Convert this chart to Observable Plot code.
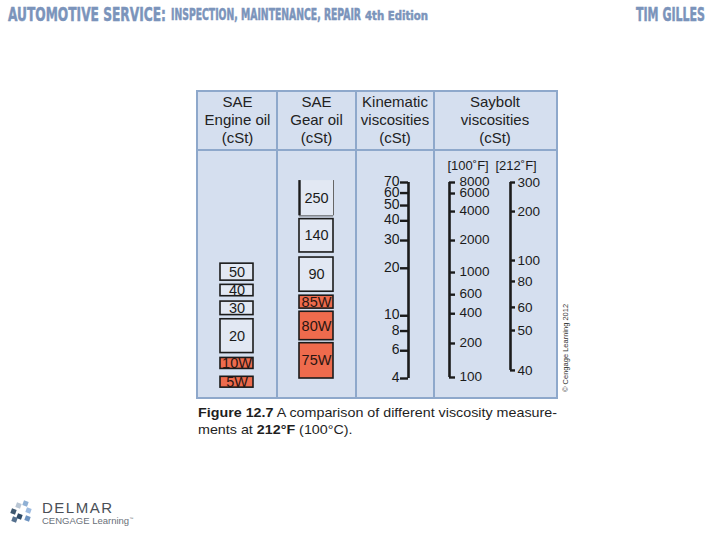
<!DOCTYPE html>
<html>
<head>
<meta charset="utf-8">
<script src="https://cdn.jsdelivr.net/npm/d3@7"></script>
<script src="https://cdn.jsdelivr.net/npm/@observablehq/plot@0.6"></script>
<style>
html,body{margin:0;padding:0;background:#fff;}
body{width:720px;height:540px;position:relative;overflow:hidden;font-family:"Liberation Sans",Arial,sans-serif;}
.abs{position:absolute;white-space:nowrap;}
.ttl{color:#7b94bb;font-family:"Liberation Sans Narrow","DejaVu Sans Condensed","Liberation Sans",sans-serif;font-weight:bold;line-height:1;transform-origin:0 0;-webkit-text-stroke:0.5px #7b94bb;}
#table{left:196px;top:90px;width:362px;height:309px;box-sizing:border-box;border:2px solid #8ea8cb;background:#d5dfef;}
.vdiv{position:absolute;top:0;bottom:0;width:2px;background:#8ea8cb;}
.hdiv{position:absolute;left:0;right:0;top:57px;height:2px;background:#8ea8cb;}
.hcell{position:absolute;top:0;height:57px;text-align:center;font-size:15px;line-height:18px;color:#222;padding-top:1px;box-sizing:border-box;}
#chart{position:absolute;left:0;top:59px;}
.cap{font-size:13.5px;color:#1e1e1e;line-height:1;transform-origin:0 0;}
.sq{position:absolute;width:5px;height:5px;transform:rotate(20deg);}
</style>
</head>
<body>
<div id="t1" class="abs ttl" style="left:8px;top:4.5px;font-size:19px;">AUTOMOTIVE SERVICE:</div>
<div id="t2" class="abs ttl" style="left:171px;top:8px;font-size:15px;">INSPECTION, MAINTENANCE, REPAIR</div>
<div id="t3" class="abs ttl" style="left:365px;top:10px;font-size:12.5px;">4th Edition</div>
<div id="t4" class="abs ttl" style="left:636px;top:4.5px;font-size:19px;">TIM GILLES</div>

<div id="table" class="abs">
  <div class="hdiv"></div>
  <div class="vdiv" style="left:78px"></div>
  <div class="vdiv" style="left:157px"></div>
  <div class="vdiv" style="left:235px"></div>
  <div class="hcell" style="left:0;width:79px">SAE<br>Engine oil<br>(cSt)</div>
  <div class="hcell" style="left:79px;width:79px">SAE<br>Gear oil<br>(cSt)</div>
  <div class="hcell" style="left:158px;width:78px">Kinematic<br>viscosities<br>(cSt)</div>
  <div class="hcell" style="left:236px;width:122px">Saybolt<br>viscosities<br>(cSt)</div>
  <div id="chart"></div>
</div>

<div class="abs" style="left:561px;top:392px;transform:rotate(-90deg);transform-origin:0 0;font-size:7.5px;color:#333;">© Cengage Learning 2012</div>

<div id="c1" class="abs cap" style="left:198px;top:406px;"><b>Figure 12.7</b> A comparison of different viscosity measure-</div>
<div id="c2" class="abs cap" style="left:198px;top:423px;">ments at <b>212°F</b> (100°C).</div>

<div class="sq" style="left:16px;top:503px;background:#b9c6d4;"></div>
<div class="sq" style="left:23px;top:501px;background:#8fb0d4;"></div>
<div class="sq" style="left:11px;top:509px;background:#3f5870;"></div>
<div class="sq" style="left:26px;top:508px;background:#9dbbe0;"></div>
<div class="sq" style="left:17px;top:514px;background:#2f4a66;"></div>
<div class="sq" style="left:25px;top:516px;background:#6d93c0;"></div>
<div class="sq" style="left:12px;top:517px;background:#55708e;"></div>
<div class="abs" style="left:42px;top:500px;font-size:15px;letter-spacing:1.5px;color:#4a4f57;line-height:1;">DELMAR</div>
<div class="abs" style="left:42px;top:516px;font-size:9.5px;color:#6a7079;line-height:1;">CENGAGE Learning<sup style="font-size:4px">™</sup></div>

<script>
// ---- data ----
const engineGrades = ["50", "40", "30", "20", "10W", "5W"];
const engineLow    = [16.7, 13.3, 10.1, 5.8, 4.6, 3.5];   // cSt at 100 °C
const engineHigh   = [21.4, 15.7, 12.3, 9.5, 5.4, 4.1];

const gearGrades = ["250", "140", "90", "85W", "80W", "75W"];
const gearLow    = [43.0, 25.2, 14.2, 11.1, 7.0, 4.0];
const gearHigh   = [72.0, 41.0, 23.4, 13.4, 10.6, 6.7];

const kinematicTicks = [70, 60, 50, 40, 30, 20, 10, 8, 6, 4];

const saybolt100Ticks = [8000, 6000, 4000, 2000, 1000, 600, 400, 200, 100];
const saybolt100AtCst = [70, 59.6, 45.8, 30.0, 18.8, 13.6, 10.3, 6.67, 4.06];
const saybolt212Ticks = [300, 200, 100, 80, 60, 50, 40];
const saybolt212AtCst = [70, 45.8, 22.4, 16.5, 11.3, 8.06, 4.5];

const tempLabels = ["[100˚F]", "[212˚F]"];

// ---- layout ----
const W = 358, H = 246;
const col = {engine: [22, 55], gear: [101, 135], kin: 210, s100: 251, s212: 312};
const ink = "#1b1b1b", light = "#e2e8f3", orange = "#ee6b4d";
const topCst = d3.max(kinematicTicks), botCst = d3.min(kinematicTicks);

const engine = engineGrades.map((g, i) => ({grade: g, lo: engineLow[i], hi: engineHigh[i], winter: g.endsWith("W")}));
const gear = gearGrades.map((g, i) => ({grade: g, lo: gearLow[i], hi: gearHigh[i], winter: g.endsWith("W"), open: gearHigh[i] > topCst}));
const s100 = saybolt100Ticks.map((v, i) => ({v, at: saybolt100AtCst[i]}));
const s212 = saybolt212Ticks.map((v, i) => ({v, at: saybolt212AtCst[i]}));
const mid = d => Math.sqrt(d.lo * d.hi);

const plot = Plot.plot({
  width: W, height: H,
  marginLeft: 0, marginRight: 0, marginTop: 31, marginBottom: 19,
  x: {domain: [0, W], range: [0, W], axis: null},
  y: {type: "log", domain: [botCst, topCst], axis: null},
  style: {background: "transparent", fontFamily: "Liberation Sans, Arial, sans-serif", fontSize: "13.5px", overflow: "visible", color: ink},
  marks: [
    // engine oil boxes
    Plot.rect(engine, {x1: col.engine[0], x2: col.engine[1], y1: "lo", y2: "hi",
      fill: d => d.winter ? orange : light, stroke: ink, strokeWidth: 1.6}),
    Plot.text(engine, {x: (col.engine[0] + col.engine[1]) / 2, y: mid, text: "grade",
      fontSize: 14.5, fill: d => d.winter ? "#2a1612" : ink}),
    // gear oil boxes
    Plot.rect(gear.filter(d => !d.open), {x1: col.gear[0], x2: col.gear[1], y1: "lo", y2: "hi",
      fill: d => d.winter ? orange : light, stroke: ink, strokeWidth: 1.6}),
    Plot.rect(gear.filter(d => d.open), {x1: col.gear[0], x2: col.gear[1], y1: "lo", y2: "hi", fill: light}),
    Plot.ruleX(gear.filter(d => d.open), {x: col.gear[0], y1: "lo", y2: "hi", stroke: ink, strokeWidth: 2.4}),
    Plot.ruleX(gear.filter(d => d.open), {x: col.gear[1], y1: "lo", y2: "hi", stroke: "#666", strokeWidth: 1}),
    Plot.ruleY(gear.filter(d => d.open), {y: "lo", x1: col.gear[0], x2: col.gear[1], stroke: "#555", strokeWidth: 1}),
    Plot.text(gear, {x: (col.gear[0] + col.gear[1]) / 2, y: mid, text: "grade",
      fontSize: 14.5, fill: d => d.winter ? "#2a1612" : ink}),
    // kinematic scale
    Plot.ruleX([col.kin], {y1: botCst, y2: topCst, stroke: ink, strokeWidth: 2.6}),
    Plot.ruleY(kinematicTicks, {y: d => d, x1: col.kin - 8, x2: col.kin, stroke: ink, strokeWidth: 2.4}),
    Plot.text(kinematicTicks, {y: d => d, x: col.kin - 9, text: d => String(d), textAnchor: "end", fontSize: 14, lineHeight: 0.8, fill: ink}),
    // Saybolt 100 °F scale
    Plot.ruleX([col.s100], {y1: d3.min(saybolt100AtCst), y2: d3.max(saybolt100AtCst), stroke: ink, strokeWidth: 2.6}),
    Plot.ruleY(s100, {y: "at", x1: col.s100, x2: col.s100 + 6, stroke: ink, strokeWidth: 2.4}),
    Plot.text(s100, {y: "at", x: col.s100 + 10, text: d => String(d.v), textAnchor: "start", fontSize: 13.5, lineHeight: 0.8, fill: ink}),
    // Saybolt 212 °F scale
    Plot.ruleX([col.s212], {y1: d3.min(saybolt212AtCst), y2: d3.max(saybolt212AtCst), stroke: ink, strokeWidth: 2.6}),
    Plot.ruleY(s212, {y: "at", x1: col.s212, x2: col.s212 + 5, stroke: ink, strokeWidth: 2.4}),
    Plot.text(s212, {y: "at", x: col.s212 + 7, text: d => String(d.v), textAnchor: "start", fontSize: 13.5, fill: ink}),
    // temperature headings
    Plot.text(tempLabels, {x: [col.s100 - 2, col.s212 - 15], frameAnchor: "top", dy: -22, text: d => d, textAnchor: "start", fontSize: 13, fill: ink})
  ]
});
document.getElementById("chart").appendChild(plot);

function fit(id, w) {
  const el = document.getElementById(id);
  el.style.transform = "none";
  const n = el.getBoundingClientRect().width;
  const s = w / n;
  el.style.transform = `scaleX(${s})`;
  return s;
}
function fitAll() {
  fit("t1", 158); fit("t2", 190); fit("t3", 63); fit("t4", 69);
  const s = fit("c1", 359);
  document.getElementById("c2").style.transform = `scaleX(${s})`;
}
fitAll();
if (document.fonts && document.fonts.ready) document.fonts.ready.then(fitAll);
</script>
</body>
</html>
